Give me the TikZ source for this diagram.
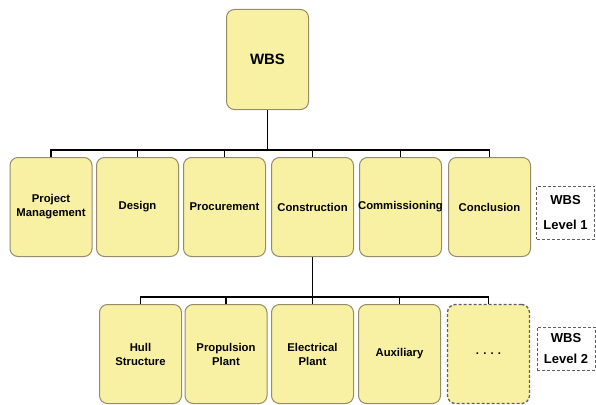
\documentclass[tikz,border=0pt]{standalone}
\usepackage{fontspec}
\setmainfont{Liberation Sans}
\usetikzlibrary{positioning}
\definecolor{boxfill}{RGB}{248,240,162}
\definecolor{boxline}{RGB}{150,140,105}
\definecolor{dashline}{RGB}{95,95,95}
\tikzset{
  wbsbox/.style={draw=boxline, fill=boxfill, line width=1pt, rounded corners=8pt,
    minimum width=82pt, minimum height=99pt, align=center, inner sep=0pt,
    font=\bfseries\fontsize{11.3}{14}\selectfont},
  morebox/.style={wbsbox, draw=dashline, dash pattern=on 3pt off 2pt, line width=1.3pt},
  levelbox/.style={draw=dashline, dash pattern=on 3pt off 2pt, line width=1pt, align=center, inner sep=2pt,
    minimum width=58pt, minimum height=53pt, font=\bfseries\fontsize{13}{25}\selectfont},
  link/.style={black, line width=1.7pt}
}
\begin{document}
\begin{tikzpicture}[x=1pt,y=-1pt]
		\useasboundingbox (0,0) rectangle (596,404);
		% top of the tree
		\node[wbsbox, minimum height=100pt, font=\bfseries\fontsize{15}{17}\selectfont] (wbs) at (267.5,59.5) {WBS};
		% level 1
		\node[wbsbox] (pm) at (51,207) {Project\\Management};
		\node[wbsbox] (des) at (137.5,207) {Design};
		\node[wbsbox] (proc) at (224.5,207) {Procurement};
		\node[wbsbox] (cons) at (312.5,207) {Construction};
		\node[wbsbox] (comm) at (400.5,207) {\makebox[76pt]{Commissioning}};
		\node[wbsbox] (conc) at (489.5,207) {Conclusion};
		\node[levelbox] (lvl1) at (565.5,212.5) {WBS\\Level 1};
		% level 2
		\node[wbsbox] (hull) at (140.5,354) {Hull\\Structure};
		\node[wbsbox] (prop) at (226,354) {Propulsion\\Plant};
		\node[wbsbox] (elec) at (312.5,354) {Electrical\\Plant};
		\node[wbsbox] (aux) at (399.5,354) {Auxiliary};
		\node[morebox] (more) at (488.5,354) {. . . .};
		\node[levelbox, minimum height=43pt, font=\bfseries\fontsize{13}{21}\selectfont] (lvl2) at (566,348.5) {WBS\\Level 2};
		% connectors
		\coordinate (bus1) at (267.5,150);
		\coordinate (bus2) at (312.5,297);
		\draw[link] (wbs.south) -- (bus1);
		\foreach \n in {pm,des,proc,cons,comm,conc}
			\draw[link] (bus1) -| (\n.north);
		\draw[link] (cons.south) -- (bus2);
		\foreach \n in {hull,prop,elec,aux,more}
			\draw[link] (bus2) -| (\n.north);
\end{tikzpicture}
\end{document}
